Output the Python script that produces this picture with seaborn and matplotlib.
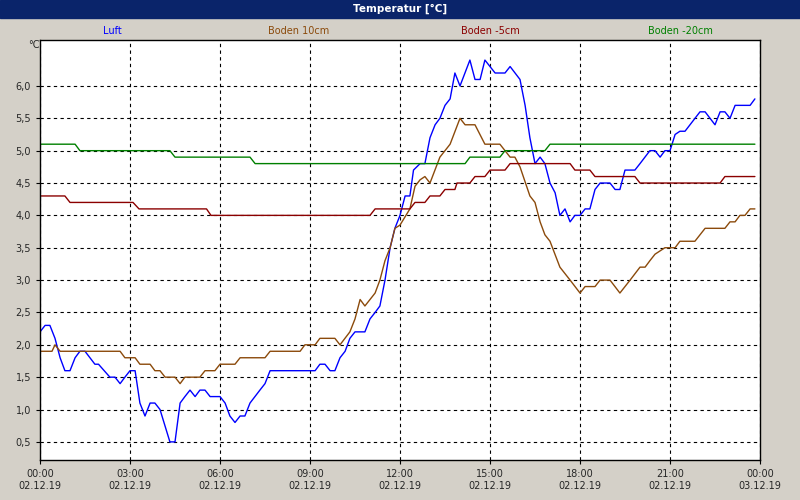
import matplotlib
matplotlib.use("Agg")
import matplotlib.pyplot as plt
import seaborn as sns
import pandas as pd
import numpy as np
from matplotlib.ticker import FuncFormatter

# Luft
luft_t = [0,0.17,0.33,0.5,0.67,0.83,1.0,1.17,1.33,1.5,1.83,1.95,2.33,2.5,2.67,2.83,3.0,3.17,3.33,3.5,3.67,3.83,4.0,4.33,4.5,4.67,4.83,5.0,5.17,5.33,5.5,5.67,6.0,6.17,6.33,6.5,6.67,6.83,7.0,7.33,7.5,7.67,9.17,9.33,9.5,9.67,9.83,10.0,10.17,10.33,10.5,10.83,11.0,11.17,11.33,11.5,11.67,11.83,12.0,12.17,12.33,12.45,12.67,12.83,13.0,13.17,13.33,13.5,13.67,13.83,14.0,14.33,14.5,14.67,14.83,15.17,15.5,15.67,16.0,16.17,16.33,16.5,16.67,16.83,17.0,17.17,17.33,17.5,17.67,17.83,18.0,18.17,18.33,18.5,18.67,19.0,19.17,19.33,19.5,19.83,20.0,20.33,20.5,20.67,20.83,21.0,21.17,21.33,21.5,22.0,22.17,22.5,22.67,22.83,23.0,23.17,23.67,23.83]
luft_v = [2.2,2.3,2.3,2.1,1.8,1.6,1.6,1.8,1.9,1.9,1.7,1.7,1.5,1.5,1.4,1.5,1.6,1.6,1.1,0.9,1.1,1.1,1.0,0.5,0.5,1.1,1.2,1.3,1.2,1.3,1.3,1.2,1.2,1.1,0.9,0.8,0.9,0.9,1.1,1.3,1.4,1.6,1.6,1.7,1.7,1.6,1.6,1.8,1.9,2.1,2.2,2.2,2.4,2.5,2.6,3.0,3.5,3.8,4.0,4.3,4.3,4.7,4.8,4.8,5.2,5.4,5.5,5.7,5.8,6.2,6.0,6.4,6.1,6.1,6.4,6.2,6.2,6.3,6.1,5.7,5.2,4.8,4.9,4.8,4.5,4.35,4.0,4.1,3.9,4.0,4.0,4.1,4.1,4.4,4.5,4.5,4.4,4.4,4.7,4.7,4.8,5.0,5.0,4.9,5.0,5.0,5.25,5.3,5.3,5.6,5.6,5.4,5.6,5.6,5.5,5.7,5.7,5.8]

# Boden 10cm
b10_t = [0,0.4,0.5,0.67,2.67,2.83,3.17,3.33,3.67,3.83,4.0,4.17,4.5,4.67,4.83,5.33,5.5,5.83,6.0,6.5,6.67,7.5,7.67,8.67,8.83,9.17,9.33,9.83,10.0,10.33,10.5,10.67,10.83,11.17,11.33,11.5,11.67,11.83,12.0,12.33,12.5,12.67,12.83,13.0,13.33,13.67,14.0,14.17,14.5,14.83,15.33,15.67,15.83,16.0,16.33,16.5,16.67,16.83,17.0,17.33,17.67,18.0,18.17,18.5,18.67,19.0,19.33,19.67,20.0,20.17,20.33,20.5,20.83,21.17,21.33,21.83,22.17,22.83,23.0,23.17,23.33,23.5,23.67,23.83]
b10_v = [1.9,1.9,2.0,1.9,1.9,1.8,1.8,1.7,1.7,1.6,1.6,1.5,1.5,1.4,1.5,1.5,1.6,1.6,1.7,1.7,1.8,1.8,1.9,1.9,2.0,2.0,2.1,2.1,2.0,2.2,2.4,2.7,2.6,2.8,3.0,3.3,3.5,3.8,3.85,4.1,4.45,4.55,4.6,4.5,4.9,5.1,5.5,5.4,5.4,5.1,5.1,4.9,4.9,4.75,4.3,4.2,3.9,3.7,3.6,3.2,3.0,2.8,2.9,2.9,3.0,3.0,2.8,3.0,3.2,3.2,3.3,3.4,3.5,3.5,3.6,3.6,3.8,3.8,3.9,3.9,4.0,4.0,4.1,4.1]

# Boden -5cm
b5_t = [0,0.83,1.0,3.1,3.3,5.55,5.7,11.0,11.17,12.33,12.5,12.83,13.0,13.33,13.5,13.83,13.9,14.33,14.5,14.83,15.0,15.5,15.67,17.67,17.83,18.33,18.5,19.83,20.0,22.67,22.83,23.83]
b5_v = [4.3,4.3,4.2,4.2,4.1,4.1,4.0,4.0,4.1,4.1,4.2,4.2,4.3,4.3,4.4,4.4,4.5,4.5,4.6,4.6,4.7,4.7,4.8,4.8,4.7,4.7,4.6,4.6,4.5,4.5,4.6,4.6]

# Boden -20cm
b20_t = [0,1.17,1.33,4.33,4.5,7.0,7.17,14.17,14.33,15.33,15.5,16.83,17.0,23.83]
b20_v = [5.1,5.1,5.0,5.0,4.9,4.9,4.8,4.8,4.9,4.9,5.0,5.0,5.1,5.1]

names = ["Luft", "Boden 10cm", "Boden -5cm", "Boden -20cm"]
colors = ["#0000ff", "#8b4a0b", "#8b0000", "#008000"]
series = [(luft_t, luft_v), (b10_t, b10_v), (b5_t, b5_v), (b20_t, b20_v)]

xtick_labels = ["00:00\n02.12.19","03:00\n02.12.19","06:00\n02.12.19","09:00\n02.12.19",
                "12:00\n02.12.19","15:00\n02.12.19","18:00\n02.12.19","21:00\n02.12.19","00:00\n03.12.19"]

frames = []
for n, (t, v) in zip(names, series):
    frames.append(pd.DataFrame({"t": t, "v": v, "s": n}))
df = pd.concat(frames)

sns.set_style("white")
plt.rcParams['font.family'] = ['DejaVu Sans']
fig = plt.figure(figsize=(8, 5), dpi=100, facecolor="#d4d0c8")
ax = fig.add_axes([0.05, 0.08, 0.9, 0.84])
sns.lineplot(data=df, x="t", y="v", hue="s", palette=dict(zip(names, colors)),
             ax=ax, legend=False, linewidth=1, estimator=None, sort=False)
ax.set_xlim(0, 24)
ax.set_ylim(0.22, 6.71)
ax.set_xticks(np.arange(0, 25, 3))
ax.set_xticklabels(xtick_labels, fontsize=7)
ax.set_yticks(np.arange(0.5, 6.01, 0.5))
ax.yaxis.set_major_formatter(FuncFormatter(lambda y, p: f"{y:.1f}".replace(".", ",")))
ax.tick_params(axis="both", labelsize=7, length=3, direction="out", color="black")
ax.tick_params(bottom=True, left=True)
ax.grid(True, color="black", linestyle=(0, (3, 3)), linewidth=0.8)
for s in ax.spines.values():
    s.set_color("black"); s.set_linewidth(1)
ax.set_xlabel(""); ax.set_ylabel("")
ax.set_facecolor("white")

fig.text(0.035, 0.91, "°C", fontsize=7, ha="left", va="center")
fig.patches.append(plt.Rectangle((0, 0.964), 1, 0.036, transform=fig.transFigure,
                                 color="#0a246a", zorder=0))
fig.text(0.5, 0.982, "Temperatur [°C]", color="white", fontsize=7.5, fontweight="bold",
         ha="center", va="center")
legend_x = [0.141, 0.373, 0.613, 0.85]
for xx, n, c in zip(legend_x, names, colors):
    fig.text(xx, 0.938, n, color=c, fontsize=7, ha="center", va="center")

fig.savefig("out.png", dpi=100, facecolor=fig.get_facecolor())
